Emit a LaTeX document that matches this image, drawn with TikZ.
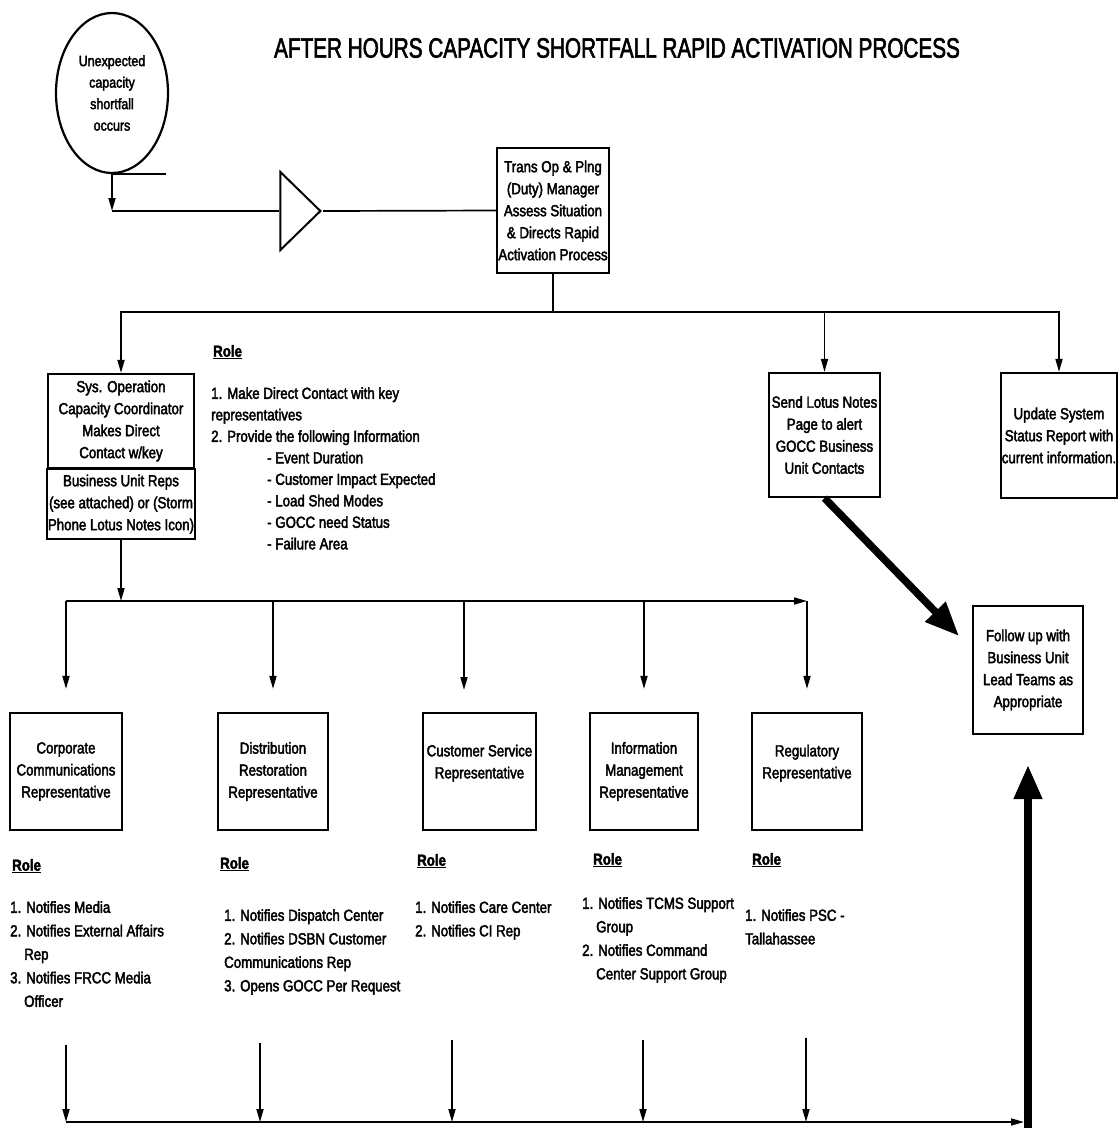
\documentclass[tikz,border=0pt]{standalone}
\usepackage{fontspec}
\setmainfont{Liberation Sans}[FakeStretch=0.83, FakeBold=2.5]
\newfontfamily\titlefont{Liberation Sans}[FakeStretch=0.74, FakeBold=2]
\usetikzlibrary{shapes.geometric, arrows.meta, positioning}
\tikzstyle{startstop} = [ellipse, minimum width=112pt, minimum height=160pt, inner sep=0pt,
    align=center, draw=black, line width=2.2pt, font=\fontsize{15}{21.5}\selectfont]
\tikzstyle{process} = [rectangle, minimum width=110pt, minimum height=125pt, inner sep=1pt,
    align=center, draw=black, line width=2.2pt, font=\fontsize{16}{22}\selectfont]
\tikzstyle{amplifier} = [isosceles triangle, isosceles triangle stretches,
    minimum width=78pt, minimum height=40pt, inner sep=0pt, draw=black, line width=2pt]
\tikzstyle{rolehead} = [anchor=west, inner sep=0pt, font=\fontsize{16}{20}\selectfont\bfseries]
\tikzstyle{rolelist} = [anchor=north west, inner sep=0pt, align=left, font=\fontsize{16}{23.5}\selectfont]
\tikzstyle{line} = [line width=1.7pt]
\tikzstyle{arrow} = [line width=1.7pt, -{Triangle[length=13pt, width=7pt]}]
\tikzstyle{bigarrow} = [line width=7.5pt, -{Triangle[length=34pt, width=27pt]}]

\begin{document}
\begin{tikzpicture}[x=1pt, y=-1pt]
    \useasboundingbox (0,0) rectangle (1118,1128);
    \node (title) at (617,48) {\titlefont\fontsize{28}{30}\selectfont AFTER HOURS CAPACITY SHORTFALL RAPID ACTIVATION PROCESS};

    % top row
    \node (oval) [startstop] at (112,93) {Unexpected\\capacity\\shortfall\\occurs};
    \node (amp) [amplifier, anchor=apex] at (323,211) {};
    \node (trans) [process, minimum width=112pt] at (553,210.5) {Trans Op \& Plng\\(Duty) Manager\\Assess Situation\\\& Directs Rapid\\Activation Process};

    % second row
    \node (sysop) [process, minimum width=146pt, minimum height=94pt] at (121,421) {Sys. Operation\\Capacity Coordinator\\Makes Direct\\Contact w/key};
    \node (reps) [process, minimum width=146pt, minimum height=70pt, below=0pt of sysop, yshift=1.1pt] {Business Unit Reps\\(see attached) or (Storm\\Phone Lotus Notes Icon)};
    \node (send) [process, minimum width=111pt, minimum height=124pt] at (824.5,435) {Send Lotus Notes\\Page to alert\\GOCC Business\\Unit Contacts};
    \node (update) [process, minimum width=108pt] at (1059,435.5) {Update System\\Status Report with\\current information.};
    \node (follow) [process, minimum height=128pt] at (1028,670) {Follow up with\\Business Unit\\Lead Teams as\\Appropriate};

    \node (rolehd) [rolehead] at (213,352) {\underline{Role}};
    \node (rolemain) [rolelist, font=\fontsize{16}{21.5}\selectfont] at (211,387) {1. Make Direct Contact with key\\representatives\\2. Provide the following Information\\
        \hspace*{56pt}- Event Duration\\\hspace*{56pt}- Customer Impact Expected\\\hspace*{56pt}- Load Shed Modes\\
        \hspace*{56pt}- GOCC need Status\\\hspace*{56pt}- Failure Area};

    % representatives
    \node (corp) [process, minimum width=112pt, minimum height=117pt] at (66,771.5) {Corporate\\Communications\\Representative};
    \node (dist) [process, minimum height=117pt] at (273,771.5) {Distribution\\Restoration\\Representative};
    \node (cust) [process, minimum width=113pt, minimum height=117pt] at (479.5,771.5) {Customer Service\\Representative\\[-2pt]};
    \node (info) [process, minimum width=108pt, minimum height=117pt] at (644,771.5) {Information\\Management\\Representative};
    \node (reg) [process, minimum height=117pt] at (807,771.5) {Regulatory\\Representative\\[-2pt]};

    \node (corphd) [rolehead] at (12,866) {\underline{Role}};
    \node (disthd) [rolehead] at (220,864) {\underline{Role}};
    \node (custhd) [rolehead] at (417,861) {\underline{Role}};
    \node (infohd) [rolehead] at (593,860) {\underline{Role}};
    \node (reghd) [rolehead] at (752,860) {\underline{Role}};

    \node (corprole) [rolelist] at (10,901) {1. Notifies Media\\2. Notifies External Affairs\\\hspace*{14pt}Rep\\3. Notifies FRCC Media\\\hspace*{14pt}Officer};
    \node (distrole) [rolelist] at (224,909) {1. Notifies Dispatch Center\\2. Notifies DSBN Customer\\Communications Rep\\3. Opens GOCC Per Request};
    \node (custrole) [rolelist] at (415,901) {1. Notifies Care Center\\2. Notifies CI Rep};
    \node (inforole) [rolelist] at (582,897) {1. Notifies TCMS Support\\\hspace*{14pt}Group\\2. Notifies Command\\\hspace*{14pt}Center Support Group};
    \node (regrole) [rolelist] at (745,909) {1. Notifies PSC -\\Tallahassee};

    % connectors
    \draw [line] (oval.south) -- ++(54,0);
    \draw [arrow] (oval.south) -- (oval.south |- amp.apex);
    \draw [line] (oval.south |- amp.apex) -- (amp.lower side);
    \draw [line] (amp.apex) -- (trans.west);

    \coordinate (bus1) at (553,312);
    \draw [line] (trans.south) -- (bus1);
    \draw [arrow] (bus1) -| (sysop.north);
    \draw [arrow] (bus1) -| (send.north);
    \draw [arrow] (bus1) -| (update.north);

    \coordinate (bus2) at (121,601);
    \coordinate (custin) at (464,713);
    \draw [arrow] (reps.south) -- (bus2);
    \draw [arrow] (corp.north |- bus2) -- (reg.north |- bus2);
    \draw [arrow, shorten >=23pt] (corp.north |- bus2) -- (corp.north);
    \draw [arrow, shorten >=23pt] (dist.north |- bus2) -- (dist.north);
    \draw [arrow, shorten >=23pt] (custin |- bus2) -- (custin);
    \draw [arrow, shorten >=23pt] (info.north |- bus2) -- (info.north);
    \draw [arrow, shorten >=23pt] (reg.north |- bus2) -- (reg.north);

    \coordinate (fuin) at (959,636);
    \draw [bigarrow] (send.south) -- (fuin);

    % bottom collector
    \coordinate (bus3) at (66,1122);
    \coordinate (c1) at (66,1045);
    \coordinate (c2) at (260,1043);
    \coordinate (c3) at (452,1040);
    \coordinate (c4) at (643,1040);
    \coordinate (c5) at (806,1038);
    \draw [arrow] (c1) -- (c1 |- bus3);
    \draw [arrow] (c2) -- (c2 |- bus3);
    \draw [arrow] (c3) -- (c3 |- bus3);
    \draw [arrow] (c4) -- (c4 |- bus3);
    \draw [arrow] (c5) -- (c5 |- bus3);
    \coordinate (riser) at (1028,1128);
    \draw [arrow] (bus3) -- (1024,1122);
    \draw [bigarrow, shorten >=30pt] (riser) -- (follow.south);
\end{tikzpicture}
\end{document}
